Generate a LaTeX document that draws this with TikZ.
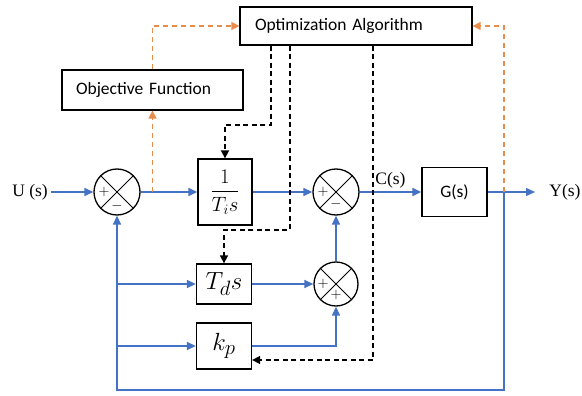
\documentclass[tikz,border=0pt]{standalone}
\usepackage{amsmath}
\usepackage{fontspec}
\setmainfont{Liberation Serif}
\newfontfamily\calfont{Carlito}
\usepackage{tikz}
\usetikzlibrary{arrows.meta}
\usepackage{xcolor}
\definecolor{sigblue}{RGB}{68,114,196}
\definecolor{optorange}{RGB}{232,140,75}

\begin{document}
\begin{tikzpicture}[x=1pt,y=-1pt,
	blk/.style={draw,line width=1.3pt,inner sep=0pt},
	txtblk/.style={blk,font=\calfont\fontsize{17.5}{20}\selectfont,align=left},
	sumj/.style={circle,draw,line width=1.3pt,minimum size=46pt,inner sep=0pt},
	sig/.style={sigblue,line width=1.4pt,-{Triangle[length=9pt,width=8pt]}},
	tune/.style={optorange,line width=1.5pt,dash pattern=on 5pt off 4pt,-{Triangle[length=8pt,width=8pt]}},
	ctl/.style={black,line width=1.6pt,dash pattern=on 5pt off 3.5pt,-{Triangle[length=8pt,width=8pt]}},
	lbl/.style={text=black,font=\fontsize{17.5}{20}\selectfont},
	sgn/.style={font=\fontsize{15}{16}\selectfont,inner sep=0pt}]
		\useasboundingbox (0,0) rectangle (582,396);
		\begin{scope}
			\node[txtblk,text width=202pt,inner xsep=15pt,minimum height=38pt] (opt) at (356,26) {Optimization Algorithm};
			\node[txtblk,text width=153pt,inner xsep=14pt,minimum height=40pt] (objf) at (152.5,90) {Objective Function};
			\node[sumj] (s1) at (117,192) {};
			\node[sumj] (s2) at (336,192) {};
			\node[sumj,minimum size=44pt] (s3) at (336,284) {};
			\node[blk,minimum width=54pt,minimum height=66pt,font=\fontsize{20.74}{24}\selectfont] (inti) at (225,192) {$\displaystyle\frac{1}{T_i s}$};
			\node[blk,minimum width=55pt,minimum height=40pt,font=\fontsize{24.88}{28}\selectfont] (deriv) at (224,284) {$T_d s$};
			\node[blk,minimum width=55pt,minimum height=46pt,font=\fontsize{24.88}{28}\selectfont] (prop) at (224,346) {$k_p$};
			\node[blk,minimum width=65pt,minimum height=49pt,font=\calfont\fontsize{17.5}{20}\selectfont] (plant) at (454.5,192) {G(s)};
			\node[lbl] (u) at (30,192) {U (s)};
			\node[lbl] (y) at (565,192) {Y(s)};
			\coordinate (yend) at (535,192);
			\coordinate (j1) at (152.5,192);
			\coordinate (j2) at (504,192);
			\coordinate (fbr) at (504,390);
			\coordinate (fbl) at (117,390);
			\coordinate (k1) at (271,125);
			\coordinate (k2) at (290,230);
			\coordinate (k3) at (373,360);
			\draw[sig] (u) -- (s1);
			\draw[sig] (s1) -- (inti);
			\draw[sig] (inti) -- (s2);
			\draw[sig] (s2) -- node[lbl,above] (cs) {C(s)} (plant);
			\draw[sig] (plant) -- (yend);
			\draw[sig] (j2) -- (fbr) -- (fbl) -- (s1);
			\draw[sig] (fbl |- deriv) -- (deriv);
			\draw[sig] (fbl |- prop) -- (prop);
			\draw[sig] (deriv) -- (s3);
			\draw[sig] (prop) -| (s3);
			\draw[sig] (s3) -- (s2);
			\draw[tune] (j1) -- (objf);
			\draw[tune] (objf) |- (opt);
			\draw[tune] (j2) |- (opt);
			\draw[ctl] (opt.south -| k1) -- (k1) -| (inti);
			\draw[ctl] (opt.south -| k2) -- (k2) -| (deriv);
			\draw[ctl] (opt.south -| k3) -- (k3) -- (k3 -| prop.east);
			\foreach \Sum in {s1,s2,s3}
			{\draw[line width=1pt] (\Sum.north west) -- (\Sum.south east);
			\draw[line width=1pt] (\Sum.north east) -- (\Sum.south west);}
			\node[sgn] (p1) at ([xshift=-13pt]s1.center) {$+$};
			\node[sgn] (m1) at ([yshift=-14pt]s1.center) {$-$};
			\node[sgn] (p2) at ([xshift=-13pt]s2.center) {$+$};
			\node[sgn] (m2) at ([yshift=-12pt]s2.center) {$-$};
			\node[sgn] (p3) at ([xshift=-13pt]s3.center) {$+$};
			\node[sgn] (p4) at ([yshift=-11pt]s3.center) {$+$};
		\end{scope}
	\end{tikzpicture}
\end{document}
